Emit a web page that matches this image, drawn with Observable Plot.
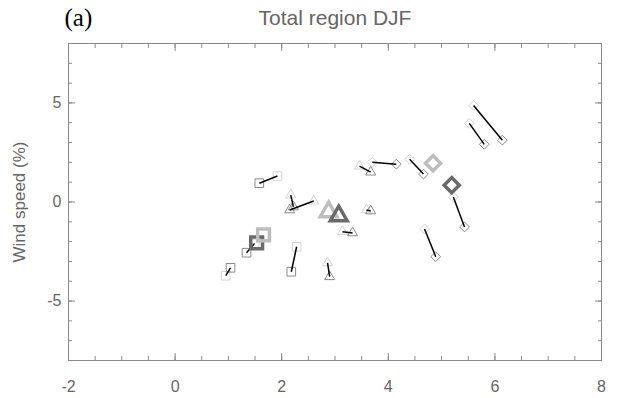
<!DOCTYPE html>
<html><head><meta charset="utf-8">
<script src="https://cdn.jsdelivr.net/npm/d3@7"></script>
<script src="https://cdn.jsdelivr.net/npm/@observablehq/plot@0.6"></script>
<style>body{margin:0;background:#fff}</style>
</head><body><div id="chart"></div>
<script>
// Pairs: light end -> dark end, for each symbol type
const squareLightX = [1.92, 1.49, 0.95, 2.28];
const squareLightY = [1.31, -2.10, -3.72, -2.26];
const squareDarkX  = [1.58, 1.34, 1.04, 2.18];
const squareDarkY  = [0.95, -2.56, -3.32, -3.52];

const triangleLightX = [2.17, 2.60, 2.86, 3.14, 3.59, 3.46];
const triangleLightY = [0.35, 0.05, -3.07, -1.50, -0.40, 1.81];
const triangleDarkX  = [2.22, 2.15, 2.90, 3.33, 3.67, 3.67];
const triangleDarkY  = [-0.25, -0.40, -3.77, -1.56, -0.45, 1.51];

const diamondLightX = [3.70, 4.40, 5.60, 5.52, 5.22, 4.68];
const diamondLightY = [2.01, 2.16, 4.87, 3.97, 0.25, -1.36];
const diamondDarkX  = [4.15, 4.66, 6.14, 5.80, 5.43, 4.89];
const diamondDarkY  = [1.91, 1.41, 3.12, 2.91, -1.26, -2.76];

// Large (mean) markers: square, triangle, diamond
const meanLightX = [1.66, 2.88, 4.84];
const meanLightY = [-1.66, -0.50, 1.96];
const meanDarkX  = [1.53, 3.07, 5.19];
const meanDarkY  = [-2.06, -0.70, 0.85];

const xMajor = [-2, 0, 2, 4, 6, 8];
const xMinor = d3.range(-2, 8.01, 0.5);
const yMajor = [-5, 0, 5];
const yMinor = d3.range(-8, 8.01, 1);

const titleText = "Total region DJF";
const panelText = "(a)";
const yLabelText = "Wind speed (%)";

function pairs(lx, ly, dx, dy) {
  return lx.map((v, i) => ({lx: v, ly: ly[i], dx: dx[i], dy: dy[i]}));
}
const sq = pairs(squareLightX, squareLightY, squareDarkX, squareDarkY);
const tr = pairs(triangleLightX, triangleLightY, triangleDarkX, triangleDarkY);
const di = pairs(diamondLightX, diamondLightY, diamondDarkX, diamondDarkY);
const allPairs = [...sq, ...tr, ...di];
const means = meanLightX.map((v, i) => ({lx: v, ly: meanLightY[i], dx: meanDarkX[i], dy: meanDarkY[i]}));

const LIGHT = "#d2d2d2", DARK = "#8a8a8a";
const BIGLIGHT = "#bdbdbd", BIGDARK = "#6a6a6a";
const small = (data, symbol, r) => [
  Plot.dot(data, {x: "lx", y: "ly", symbol, r, stroke: LIGHT, strokeWidth: 1}),
  Plot.dot(data, {x: "dx", y: "dy", symbol, r, stroke: DARK, strokeWidth: 1})
];

const axisColor = "#8a8a8a";
const plot = Plot.plot({
  width: 621, height: 398,
  marginLeft: 68, marginRight: 20, marginTop: 43, marginBottom: 38,
  x: {domain: [-2, 8]},
  y: {domain: [-8, 8]},
  style: {fontFamily: "'Liberation Sans', Arial, sans-serif", background: "white"},
  marks: [
    Plot.frame({stroke: axisColor}),
    // inward ticks on all four sides
    Plot.axisX({anchor: "bottom", ticks: xMajor, tickSize: -7, tickFormat: () => "", stroke: axisColor, label: null}),
    Plot.axisX({anchor: "bottom", ticks: xMinor, tickSize: -4, tickFormat: () => "", stroke: axisColor, label: null}),
    Plot.axisX({anchor: "top", ticks: xMajor, tickSize: -7, tickFormat: () => "", stroke: axisColor, label: null}),
    Plot.axisX({anchor: "top", ticks: xMinor, tickSize: -4, tickFormat: () => "", stroke: axisColor, label: null}),
    Plot.axisY({anchor: "left", ticks: yMajor, tickSize: -7, tickFormat: () => "", stroke: axisColor, label: null}),
    Plot.axisY({anchor: "left", ticks: yMinor, tickSize: -4, tickFormat: () => "", stroke: axisColor, label: null}),
    Plot.axisY({anchor: "right", ticks: yMajor, tickSize: -7, tickFormat: () => "", stroke: axisColor, label: null}),
    Plot.axisY({anchor: "right", ticks: yMinor, tickSize: -4, tickFormat: () => "", stroke: axisColor, label: null}),
    // tick labels
    Plot.axisX({anchor: "bottom", ticks: xMajor, tickSize: 0, tickPadding: 20, tickFormat: d => String(d), fontSize: 16, color: "#666", label: null}),
    Plot.axisY({anchor: "left", ticks: yMajor, tickSize: 0, tickPadding: 7, tickFormat: d => String(d), fontSize: 16, color: "#666", label: null}),
    // small markers
    ...small(sq, "square2", 5.5),
    ...small(tr, "triangle2", 4.8),
    ...small(di, "diamond2", 4.4),
    // connecting lines
    Plot.link(allPairs, {x1: "lx", y1: "ly", x2: "dx", y2: "dy", stroke: "black", strokeWidth: 1.5}),
    // large mean markers
    Plot.dot([means[0]], {x: "dx", y: "dy", symbol: "square2", r: 7.5, stroke: BIGDARK, strokeWidth: 3.5}),
    Plot.dot([means[0]], {x: "lx", y: "ly", symbol: "square2", r: 7.5, stroke: BIGLIGHT, strokeWidth: 3.5}),
    Plot.dot([means[1]], {x: "lx", y: "ly", symbol: "triangle2", r: 8, stroke: BIGLIGHT, strokeWidth: 3.5}),
    Plot.dot([means[1]], {x: "dx", y: "dy", symbol: "triangle2", r: 8, stroke: BIGDARK, strokeWidth: 3.5}),
    Plot.dot([means[2]], {x: "lx", y: "ly", symbol: "diamond2", r: 6.8, stroke: BIGLIGHT, strokeWidth: 3.5}),
    Plot.dot([means[2]], {x: "dx", y: "dy", symbol: "diamond2", r: 6.8, stroke: BIGDARK, strokeWidth: 3.5}),
    // texts
    Plot.text([titleText], {frameAnchor: "top", dy: -33, fontSize: 21, fill: "#666"}),
    Plot.text([panelText], {frameAnchor: "top-left", dx: -4, dy: -35, textAnchor: "start", fontSize: 25, fill: "black", fontFamily: "'Liberation Serif', 'Times New Roman', serif"}),
    Plot.text([yLabelText], {frameAnchor: "left", dx: -49, rotate: -90, textAnchor: "middle", fontSize: 17, fill: "#666"})
  ]
});
document.getElementById("chart").append(plot);
</script>
</body></html>
